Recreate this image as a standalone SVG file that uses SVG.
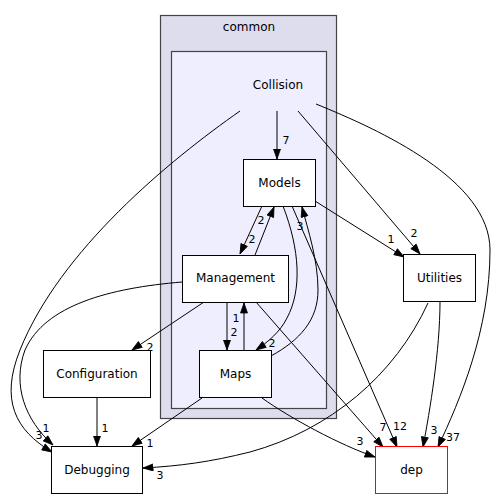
<svg xmlns="http://www.w3.org/2000/svg" width="498" height="500" viewBox="0 0 498 500">
<style>
text{font-family:"DejaVu Sans",sans-serif;font-size:11px;fill:#000}
.n{fill:#fff;stroke:#000;stroke-width:1}
.e{fill:none;stroke:#000;stroke-width:1;marker-end:url(#ah)}
.l{text-anchor:middle}
.t{text-anchor:middle;font-size:12px}
</style>
<defs>
<marker id="ah" markerUnits="userSpaceOnUse" markerWidth="12" markerHeight="9" refX="10.5" refY="4" orient="auto">
<path d="M0.5,0.5 L10.5,4 L0.5,7.5 z" fill="#000" stroke="#000" stroke-width="0.8"/>
</marker>
</defs>
<g id="cluster_common">
<rect x="160.5" y="15.5" width="176" height="403" fill="#ddddee" stroke="#444" stroke-width="1.2"/>
<text class="t" x="249" y="31">common</text>
</g>
<g id="cluster_Collision">
<rect x="171.5" y="51.5" width="155" height="357" fill="#eeeeff" stroke="#444" stroke-width="1.2"/>
<text class="t" x="278" y="89">Collision</text>
</g>
<g id="connectors">
<path class="e" d="M277,111 L277,159"/>
<path class="e" d="M240,111 C170,160 60,250 20,350 C0,400 15,430 52,452"/>
<path class="e" d="M298,111 L420,254"/>
<path class="e" d="M316,104 C380,130 490,180 490,250 C490,330 460,400 438,447"/>
<path class="e" d="M262,206 L240,254"/>
<path class="e" d="M255,255 L274,207"/>
<path class="e" d="M283,206 C300,250 302,290 287,318 C280,332 268,342 256,350"/>
<path class="e" d="M271,356 C300,340 318,320 318,290 C318,260 308,230 302,207"/>
<path class="e" d="M292,206 L397,447"/>
<path class="e" d="M315,201 L404,257"/>
<path class="e" d="M227,302 L227,350"/>
<path class="e" d="M244,350 L244,303"/>
<path class="e" d="M204,302 L132,350"/>
<path class="e" d="M182,282 C110,288 45,305 25,350 C12,385 25,420 53,445"/>
<path class="e" d="M256,302 L383,447"/>
<path class="e" d="M97,398 L97,446"/>
<path class="e" d="M202,398 L132,446"/>
<path class="e" d="M262,398 C290,418 340,445 375,457"/>
<path class="e" d="M428,303 C395,375 330,430 250,452 C210,462 180,466 143,468"/>
<path class="e" d="M440,302 C440,350 430,410 423,447"/>
<text class="l" x="286" y="144">7</text>
<text class="l" x="39" y="439">3</text>
<text class="l" x="46" y="432">1</text>
<text class="l" x="414" y="237">2</text>
<text class="l" x="391" y="243">1</text>
<text class="l" x="453" y="441">37</text>
<text class="l" x="434" y="434">3</text>
<text class="l" x="400" y="430">12</text>
<text class="l" x="383" y="431">7</text>
<text class="l" x="360" y="445">3</text>
<text class="l" x="272" y="347">2</text>
<text class="l" x="300" y="230">3</text>
<text class="l" x="261" y="224">2</text>
<text class="l" x="252" y="243">2</text>
<text class="l" x="236" y="322">1</text>
<text class="l" x="234" y="336">2</text>
<text class="l" x="150" y="351">2</text>
<text class="l" x="105" y="432">1</text>
<text class="l" x="150" y="447">1</text>
<text class="l" x="160" y="479">3</text>
</g>
<g id="Models"><rect class="n" x="243.5" y="159.5" width="72" height="47"/><text class="t" x="279.5" y="187">Models</text></g>
<g id="Management"><rect class="n" x="182.5" y="255.5" width="106" height="47"/><text class="t" x="235.5" y="282">Management</text></g>
<g id="Maps"><rect class="n" x="199.5" y="350.5" width="72" height="47"/><text class="t" x="235.5" y="378">Maps</text></g>
<g id="Utilities"><rect class="n" x="403.5" y="254.5" width="72" height="47"/><text class="t" x="439.5" y="282">Utilities</text></g>
<g id="Configuration"><rect class="n" x="43.5" y="350.5" width="107" height="47"/><text class="t" x="97" y="378">Configuration</text></g>
<g id="Debugging"><rect class="n" x="51.5" y="446.5" width="91" height="47"/><text class="t" x="97" y="474">Debugging</text></g>
<g id="dep"><rect x="375.5" y="446.5" width="72" height="47" fill="#fff" stroke="#ff0000"/><text class="t" x="411.5" y="474">dep</text></g>
</svg>
